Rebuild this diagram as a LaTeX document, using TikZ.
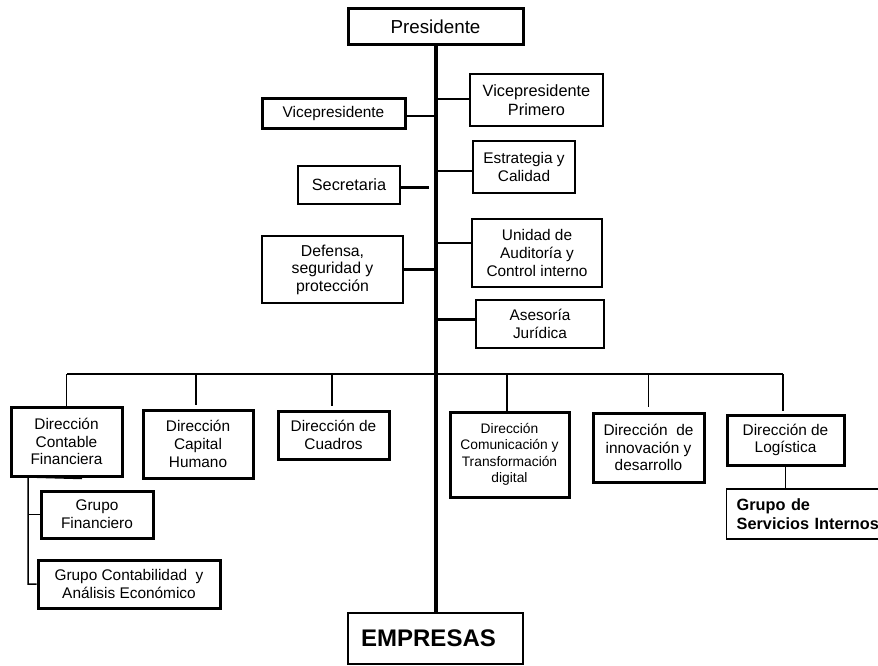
\documentclass[tikz,border=0pt]{standalone}
\usepackage{fontspec}
\setmainfont{Liberation Sans}
\usetikzlibrary{calc}
\begin{document}
\begin{tikzpicture}[x=1pt,y=-1pt,
  box/.style={draw,rectangle,inner sep=0pt,align=center,anchor=center,text=black},
  bthick/.style={line width=3pt},
  bmid/.style={line width=2.2pt},
  bthin/.style={line width=1.4pt},
  fA/.style={font=\fontsize{15.4}{17.8}\selectfont},
  fB/.style={font=\fontsize{16.3}{19}\selectfont},
  fC/.style={font=\fontsize{13.8}{16.5}\selectfont},
  conthin/.style={line width=1.5pt},
  conthick/.style={line width=3pt},
  mainline/.style={line width=4pt}]
\path[use as bounding box, clip] (0,0) rectangle (878,666);
\fill[white] (0,0) rectangle (878,666);

% top
\node[box,bthick,minimum width=175pt,minimum height=36pt,font=\fontsize{18.8}{22}\selectfont] (pres) at (435.5,27) {Presidente};
\node[box,bmid,minimum width=175pt,minimum height=51pt,font=\fontsize{24}{27}\selectfont\bfseries] (emp) at (435.5,638.5) {EMPRESAS\hspace*{14pt}};

% side boxes
\node[box,bmid,fB,minimum width=133pt,minimum height=52pt] (vpp) at (536.5,100) {Vicepresidente\\Primero};
\node[box,bthick,fA,minimum width=143pt,minimum height=30pt] (vp) at (333.5,114) {Vicepresidente};
\node[box,bthin,fA,minimum width=102pt,minimum height=52pt] (est) at (524,167) {Estrategia y\\Calidad};
\node[box,bmid,fB,minimum width=102pt,minimum height=38pt] (sec) at (349,185) {Secretaria};
\node[box,bthin,font=\fontsize{15.8}{17.5}\selectfont,minimum width=141pt,minimum height=67pt] (def) at (332.5,269.5) {Defensa,\\seguridad y\\protección};
\node[box,bmid,fA,minimum width=130pt,minimum height=68pt] (uni) at (537,253) {Unidad de\\Auditoría y\\Control interno};
\node[box,bmid,fA,minimum width=128pt,minimum height=48pt] (ase) at (540,324) {Asesoría\\Jurídica};

% direcciones
\node[box,bthick,fA,minimum width=111pt,minimum height=69pt] (dcf) at (66.5,441.5) {Dirección\\Contable\\Financiera};
\node[box,bthick,fA,minimum width=110pt,minimum height=68pt] (dch) at (198,444) {Dirección\\Capital\\Humano};
\node[box,bthick,fA,minimum width=111pt,minimum height=48pt] (dcu) at (333.5,435) {Dirección de\\Cuadros};
\node[box,bthick,fC,minimum width=119pt,minimum height=85pt] (dct) at (509.5,454.5) {Dirección\\Comunicación y\\Transformación\\digital};
\node[box,bthick,fA,minimum width=111pt,minimum height=69pt] (dia) at (648.5,447.5) {Dirección\ \ de\\innovación y\\desarrollo};
\node[box,bthick,fA,minimum width=117pt,minimum height=50pt] (dlo) at (785.5,440) {Dirección de\\Logística};

% grupos
\node[box,bthin,anchor=west,align=left,text width=160pt,inner xsep=10pt,minimum height=50pt,font=\fontsize{16.3}{19.5}\selectfont\bfseries] (gsi) at (726,514) {Grupo de\\Servicios Internos};
\node[box,bthick,fA,minimum width=112pt,minimum height=47pt] (gf) at (97,514.5) {Grupo\\Financiero};
\node[box,bthick,fA,minimum width=182pt,minimum height=48pt] (gca) at (129,584) {Grupo Contabilidad\ \ y\\Análisis Económico};

% main line
\draw[mainline] (pres.south) -- (emp.north);

% side connectors
\draw[conthin] ([yshift=1pt]vpp.west) -- ([yshift=1pt]vpp.west -| pres.south);
\draw[conthin] ([yshift=-2pt]vp.east) -- ([yshift=-2pt]vp.east -| pres.south);
\draw[conthin] ([yshift=-4pt]est.west) -- ([yshift=-4pt]est.west -| pres.south);
\draw[conthick] ([yshift=-2pt]sec.east) -- ([yshift=-2pt,xshift=28pt]sec.east);
\draw[conthick] (def.east) -- (def.east -| pres.south);
\draw[conthin] ([yshift=10pt]uni.west) -- ([yshift=10pt]uni.west -| pres.south);
\draw[conthick] ([yshift=5pt]ase.west) -- ([yshift=5pt]ase.west -| pres.south);

% bus
\coordinate (busL) at (67,374);
\coordinate (busR) at (783,374);
\draw[line width=2pt] (busL) -- (busR);
\draw[conthin] (dcf.north) -- (dcf.north |- busL);
\draw[conthin] ([xshift=-2pt,yshift=4pt]dch.north) -- ([xshift=-2pt]dch.north |- busL);
\draw[conthin] ([xshift=-1.5pt,yshift=4pt]dcu.north) -- ([xshift=-1.5pt]dcu.north |- busL);
\draw[conthin] ([xshift=-2.5pt]dct.north) -- ([xshift=-2.5pt]dct.north |- busL);
\draw[conthin] ([yshift=5pt]dia.north) -- (dia.north |- busL);
\draw[conthin] ([xshift=-2.5pt,yshift=3pt]dlo.north) -- ([xshift=-2.5pt]dlo.north |- busR);

% logistica -> servicios
\draw[conthin] (dlo.south) -- (dlo.south |- gsi.north);

% left tree
\coordinate (t) at (28,477);
\draw[conthin] ([xshift=15.5pt,yshift=-1pt]dcf.south) -- (t) -- (t |- gca.west) -- (gca.west);
\draw[conthin] (t |- gf.west) -- (gf.west);
\end{tikzpicture}
\end{document}
